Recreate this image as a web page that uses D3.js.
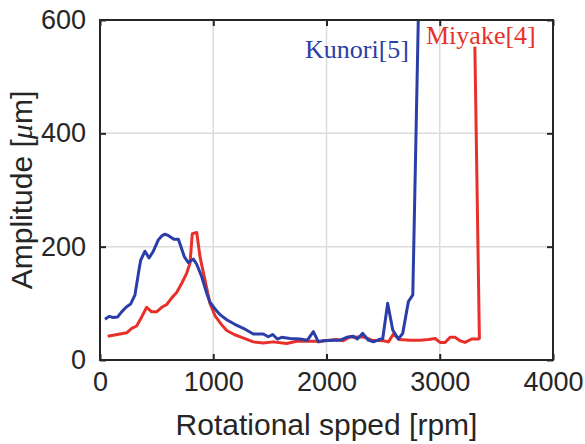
<!DOCTYPE html>
<html>
<head>
<meta charset="utf-8">
<script src="https://cdn.jsdelivr.net/npm/d3@7"></script>
<style>
  html, body { margin: 0; padding: 0; background: #fff; }
  svg { display: block; }
</style>
</head>
<body>
<svg id="chart" width="585" height="444"></svg>
<script>
// ---- data ----
const xTicks = [0, 1000, 2000, 3000, 4000];
const yTicks = [0, 200, 400, 600];

const kunoriRpm = [44,80,118,156,191,235,271,309,344,359,397,433,471,515,545,574,609,653,692,715,745,780,824,854,898,942,971,1016,1060,1119,1190,1266,1354,1442,1486,1525,1566,1604,1678,1766,1831,1884,1928,1972,2060,2120,2179,2237,2272,2320,2370,2414,2473,2496,2540,2585,2634,2673,2723,2762,2812];
const kunoriAmp = [72,77,75,76,85,94,99,115,159,176,192,180,192,212,219,222,219,213,213,200,182,172,178,169,147,118,102,90,80,71,63,56,46,46,41,45,37,40,38,37,35,50,32,34,35,35,40,42,37,47,35,32,37,37,100,53,37,47,103,115,615];

const miyakeRpm = [68,236,280,324,368,412,456,500,545,589,639,677,721,765,795,815,854,883,927,971,1016,1075,1119,1185,1251,1354,1442,1530,1648,1737,1854,1943,2090,2149,2208,2237,2326,2400,2503,2547,2591,2644,2738,2826,2900,2959,3003,3047,3091,3135,3179,3223,3282,3340,3350,3310];
const miyakeAmp = [42,48,56,60,76,93,85,85,93,98,111,119,135,153,171,223,225,182,141,100,78,62,52,45,40,32,30,32,29,33,33,33,36,34,41,40,41,35,34,32,46,36,35,35,36,38,31,31,40,40,34,31,37,37,38,553];

const seriesLabels = ["Kunori[5]", "Miyake[4]"];

// ---- layout ----
const svg = d3.select("#chart");
const m = { left: 100, top: 20, right: 32, bottom: 84 };
const W = 585 - m.left - m.right;
const H = 444 - m.top - m.bottom;
const dark = "#262626";

const x = d3.scaleLinear().domain([0, 4000]).range([0, W]);
const y = d3.scaleLinear().domain([0, 600]).range([H, 0]);

const g = svg.append("g").attr("transform", `translate(${m.left},${m.top})`);

// grid
g.append("g").selectAll("line").data(xTicks.slice(1, -1)).join("line")
  .attr("x1", d => x(d)).attr("x2", d => x(d)).attr("y1", 0).attr("y2", H)
  .attr("stroke", "#dcdcdc").attr("stroke-width", 1.5);
g.append("g").selectAll("line").data(yTicks.slice(1, -1)).join("line")
  .attr("y1", d => y(d)).attr("y2", d => y(d)).attr("x1", 0).attr("x2", W)
  .attr("stroke", "#dcdcdc").attr("stroke-width", 1.5);

// clip
svg.append("defs").append("clipPath").attr("id", "clip")
  .append("rect").attr("x", 0).attr("y", 0).attr("width", W).attr("height", H);

const line = d3.line().x(d => x(d[0])).y(d => y(d[1]));
const kunori = kunoriRpm.map((r, i) => [r, kunoriAmp[i]]);
const miyake = miyakeRpm.map((r, i) => [r, miyakeAmp[i]]);

const lines = g.append("g").attr("clip-path", "url(#clip)");
lines.append("path").datum(miyake).attr("d", line)
  .attr("fill", "none").attr("stroke", "#e8302a").attr("stroke-width", 3).attr("stroke-linejoin", "round");
lines.append("path").datum(kunori).attr("d", line)
  .attr("fill", "none").attr("stroke", "#2b3ea8").attr("stroke-width", 3).attr("stroke-linejoin", "round");

// axes (MATLAB-like box with inward ticks)
const fontTick = "Liberation Sans, Arial, sans-serif";
const xAxis = d3.axisBottom(x).tickValues(xTicks).tickSize(-6).tickPadding(12).tickFormat(d3.format("d"));
const yAxis = d3.axisLeft(y).tickValues(yTicks).tickSize(-6).tickPadding(14).tickFormat(d3.format("d"));
const xTop = d3.axisTop(x).tickValues(xTicks).tickSize(-6).tickFormat("");
const yRight = d3.axisRight(y).tickValues(yTicks).tickSize(-6).tickFormat("");

function style(sel) {
  sel.select(".domain").remove();
  sel.selectAll(".tick line").attr("stroke", dark).attr("stroke-width", 2);
  sel.selectAll(".tick text").attr("fill", dark).attr("font-family", fontTick).attr("font-size", 27);
}
g.append("g").attr("transform", `translate(0,${H})`).call(xAxis).call(style);
g.append("g").call(yAxis).call(style);
g.append("g").call(xTop).call(style);
g.append("g").attr("transform", `translate(${W},0)`).call(yRight).call(style);

g.append("rect").attr("x", 0).attr("y", 0).attr("width", W).attr("height", H)
  .attr("fill", "none").attr("stroke", dark).attr("stroke-width", 2);

// axis titles
svg.append("text").attr("x", m.left + W / 2).attr("y", 435)
  .attr("text-anchor", "middle").attr("fill", dark)
  .attr("font-family", fontTick).attr("font-size", 30)
  .text("Rotational spped [rpm]");

const yt = svg.append("text")
  .attr("transform", `translate(32,${m.top + H / 2}) rotate(-90)`)
  .attr("text-anchor", "middle").attr("fill", dark)
  .attr("font-family", fontTick).attr("font-size", 30);
yt.append("tspan").text("Amplitude [");
yt.append("tspan").attr("font-family", "Liberation Serif, serif").attr("font-style", "italic").text("μ");
yt.append("tspan").text("m]");

// series labels
const serif = "Liberation Serif, Times New Roman, serif";
svg.append("text").attr("x", 305).attr("y", 58).attr("fill", "#2b3ea8")
  .attr("font-family", serif).attr("font-size", 26).text(seriesLabels[0]);
svg.append("text").attr("x", 426).attr("y", 44).attr("fill", "#e8302a")
  .attr("font-family", serif).attr("font-size", 26).text(seriesLabels[1]);
</script>
</body>
</html>
